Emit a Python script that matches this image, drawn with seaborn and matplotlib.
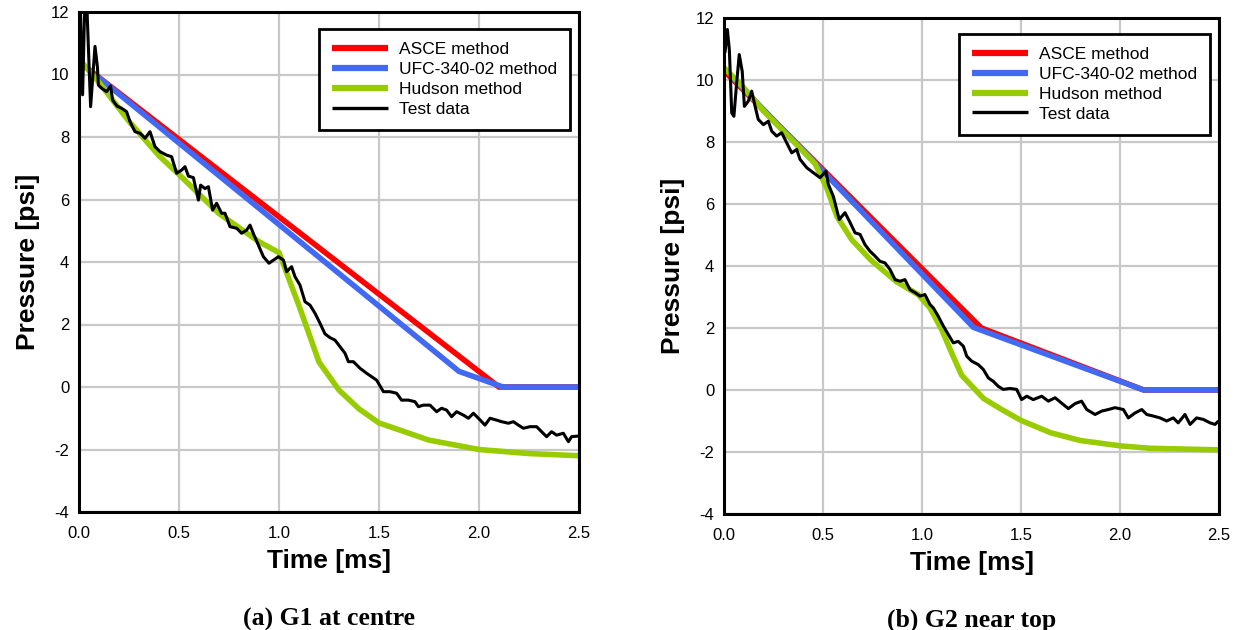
import numpy as np
import pandas as pd
import matplotlib
matplotlib.use("Agg")
import matplotlib.pyplot as plt
import seaborn as sns

# ---------------- data: panel (a) G1 at centre ----------------
a_asce_t = [0.0, 2.10, 2.50]
a_asce_p = [10.4, 0.0, 0.0]
a_ufc_t = [0.08, 1.90, 2.12, 2.50]
a_ufc_p = [10.0, 0.5, 0.0, 0.0]
a_hud_t = [0.0, 0.1, 0.25, 0.4, 0.5, 0.7, 0.9, 1.0, 1.1, 1.2, 1.3, 1.4, 1.5, 1.75, 2.0, 2.25, 2.5]
a_hud_p = [10.5, 9.75, 8.5, 7.4, 6.8, 5.55, 4.65, 4.3, 2.6, 0.8, -0.1, -0.7, -1.15, -1.7, -2.0, -2.13, -2.2]
a_test_t = [0.0, 0.004, 0.018, 0.03, 0.037, 0.058, 0.08, 0.092, 0.097, 0.113, 0.138, 0.158, 0.168,
            0.19, 0.213, 0.238, 0.255, 0.28, 0.305, 0.33, 0.355, 0.38, 0.405, 0.438, 0.463, 0.488,
            0.513, 0.53, 0.547, 0.572, 0.597, 0.608, 0.63, 0.647, 0.668, 0.688, 0.713, 0.73, 0.755,
            0.788, 0.813, 0.838, 0.855, 0.875, 0.897, 0.922, 0.95, 0.972, 0.997, 1.022, 1.038, 1.063,
            1.08, 1.105, 1.13, 1.155, 1.18, 1.205, 1.23, 1.255, 1.28, 1.305, 1.33, 1.347, 1.372,
            1.405, 1.438, 1.463, 1.488, 1.522, 1.555, 1.588, 1.613, 1.647, 1.68, 1.697, 1.722, 1.755,
            1.788, 1.813, 1.838, 1.863, 1.888, 1.922, 1.947, 1.972, 1.997, 2.03, 2.055, 2.088, 2.113,
            2.147, 2.172, 2.197, 2.222, 2.255, 2.288, 2.313, 2.338, 2.363, 2.388, 2.422, 2.447, 2.463,
            2.497]
a_test_p = [10.3, 12.8, 9.35, 12.6, 12.6, 8.97, 10.9, 10.25, 9.66, 9.56, 9.45, 9.63, 9.18,
            8.99, 8.92, 8.81, 8.49, 8.17, 8.12, 7.96, 8.17, 7.69, 7.53, 7.42, 7.37, 6.84,
            6.94, 7.05, 6.75, 6.7, 5.98, 6.46, 6.35, 6.41, 5.66, 5.88, 5.56, 5.56, 5.13,
            5.08, 4.92, 5.02, 5.18, 4.86, 4.54, 4.17, 3.96, 4.06, 4.17, 4.06, 3.69, 3.85,
            3.53, 3.26, 2.73, 2.62, 2.36, 2.04, 1.7, 1.58, 1.5, 1.29, 1.08, 0.81, 0.81,
            0.6, 0.44, 0.33, 0.22, -0.15, -0.15, -0.2, -0.42, -0.42, -0.47, -0.63, -0.58, -0.58,
            -0.79, -0.68, -0.74, -0.95, -0.79, -0.9, -1.0, -0.84, -1.0, -1.22, -1.0, -1.06, -1.11,
            -1.16, -1.11, -1.22, -1.32, -1.27, -1.27, -1.43, -1.59, -1.43, -1.54, -1.48, -1.75, -1.59,
            -1.57]

# ---------------- data: panel (b) G2 near top ----------------
b_asce_t = [0.0, 1.30, 2.12, 2.50]
b_asce_p = [10.3, 2.0, 0.0, 0.0]
b_ufc_t = [0.04, 1.26, 2.12, 2.50]
b_ufc_p = [10.1, 2.02, 0.0, 0.0]
b_hud_t = [0.0, 0.1, 0.2, 0.3, 0.4, 0.46, 0.52, 0.57, 0.645, 0.74, 0.87, 0.98, 1.04, 1.1, 1.15,
           1.2, 1.31, 1.4, 1.5, 1.65, 1.8, 2.0, 2.15, 2.5]
b_hud_p = [10.4, 9.75, 9.0, 8.35, 7.7, 7.3, 6.5, 5.6, 4.85, 4.2, 3.5, 3.08, 2.65, 1.94, 1.19,
           0.48, -0.27, -0.62, -0.98, -1.38, -1.63, -1.8, -1.88, -1.93]
b_test_t = [0.005, 0.017, 0.027, 0.039, 0.05, 0.064, 0.077, 0.092, 0.103, 0.123, 0.14, 0.157, 0.173,
            0.199, 0.224, 0.241, 0.266, 0.291, 0.317, 0.342, 0.367, 0.384, 0.418, 0.451, 0.485, 0.515,
            0.527, 0.552, 0.582, 0.611, 0.633, 0.662, 0.687, 0.712, 0.737, 0.763, 0.788, 0.813, 0.838,
            0.864, 0.889, 0.914, 0.939, 0.965, 0.99, 1.015, 1.04, 1.057, 1.082, 1.108, 1.133, 1.158,
            1.183, 1.209, 1.226, 1.251, 1.284, 1.31, 1.335, 1.36, 1.385, 1.41, 1.444, 1.478, 1.503,
            1.529, 1.562, 1.605, 1.638, 1.672, 1.714, 1.739, 1.773, 1.806, 1.832, 1.874, 1.908, 1.941,
            1.975, 2.017, 2.042, 2.076, 2.11, 2.135, 2.168, 2.202, 2.236, 2.269, 2.294, 2.328, 2.354,
            2.387, 2.421, 2.455, 2.48, 2.497]
b_test_p = [10.88, 11.63, 10.98, 8.94, 8.83, 9.91, 10.82, 10.28, 9.15, 9.32, 9.64, 9.15, 8.73,
            8.56, 8.67, 8.35, 8.19, 8.3, 7.97, 7.65, 7.76, 7.44, 7.17, 7.01, 6.85, 7.06,
            6.63, 6.25, 5.5, 5.72, 5.45, 5.07, 5.02, 4.69, 4.48, 4.32, 4.15, 4.1, 3.89,
            3.56, 3.51, 3.56, 3.24, 3.14, 3.03, 3.08, 2.76, 2.65, 2.38, 2.06, 1.79, 1.52,
            1.57, 1.41, 1.09, 0.93, 0.82, 0.66, 0.39, 0.28, 0.12, 0.02, 0.05, 0.02, -0.31,
            -0.2, -0.31, -0.2, -0.36, -0.25, -0.47, -0.6, -0.44, -0.36, -0.63, -0.79, -0.68, -0.63,
            -0.57, -0.63, -0.9, -0.74, -0.63, -0.79, -0.84, -0.9, -1.0, -0.9, -1.06, -0.79, -1.11,
            -0.9, -0.95, -1.06, -1.11, -1.0]

x_ticks = [0.0, 0.5, 1.0, 1.5, 2.0, 2.5]
y_ticks = [-4, -2, 0, 2, 4, 6, 8, 10, 12]
series_names = ["ASCE method", "UFC-340-02 method", "Hudson method", "Test data"]
captions = ["(a) G1 at centre", "(b) G2 near top"]

colors = {"ASCE method": "#ff0000", "UFC-340-02 method": "#4169f2",
          "Hudson method": "#99cc00", "Test data": "#000000"}
widths = {"ASCE method": 4.0, "UFC-340-02 method": 4.0, "Hudson method": 4.0, "Test data": 2.2}

sns.set_style("white")
plt.rcParams['font.family'] = ['Liberation Sans', 'DejaVu Sans']
plt.rcParams.update({"text.color": "black", "axes.labelcolor": "black",
                     "xtick.color": "black", "ytick.color": "black"})

fig = plt.figure(figsize=(12.4, 6.3), dpi=100)
ax_a = fig.add_axes([79/1240, 1-512/630, 500/1240, 500/630])
ax_b = fig.add_axes([724/1240, 1-514/630, 495/1240, 496/630])

panels = [
    (ax_a, [(a_asce_t, a_asce_p), (a_ufc_t, a_ufc_p), (a_hud_t, a_hud_p), (a_test_t, a_test_p)],
     (0.982, 0.966)),
    (ax_b, [(b_asce_t, b_asce_p), (b_ufc_t, b_ufc_p), (b_hud_t, b_hud_p), (b_test_t, b_test_p)],
     (0.982, 0.968)),
]

for i, (ax, data, leg_pos) in enumerate(panels):
    for name, (t, p) in zip(series_names, data):
        df = pd.DataFrame({"Time": t, "Pressure": p})
        sns.lineplot(data=df, x="Time", y="Pressure", ax=ax, color=colors[name],
                     linewidth=widths[name], label=name, estimator=None, sort=False,
                     solid_capstyle="butt", solid_joinstyle="miter" if name != "Test data" else "round")
    ax.set_xlim(0, 2.5)
    ax.set_ylim(-4, 12)
    ax.set_xticks(x_ticks)
    ax.set_xticklabels([f"{v:.1f}" for v in x_ticks], fontsize=12)
    ax.set_yticks(y_ticks)
    ax.set_yticklabels([str(v) for v in y_ticks], fontsize=12)
    ax.tick_params(axis="x", length=0, pad=10)
    ax.tick_params(axis="y", length=0, pad=7)
    ax.grid(True, color="#c8c8c8", linewidth=1.6)
    ax.set_axisbelow(True)
    for sp in ax.spines.values():
        sp.set_color("black")
        sp.set_linewidth(2.2)
        sp.set_zorder(5)
    ax.set_xlabel("Time [ms]", fontsize=19, fontweight="bold", labelpad=6)
    ax.set_ylabel("Pressure [psi]", fontsize=19, fontweight="bold", labelpad=8)
    leg = ax.legend(loc="upper right", bbox_to_anchor=leg_pos, fontsize=12.5, frameon=True,
                    fancybox=False, edgecolor="black", framealpha=1, handlelength=3.2,
                    labelspacing=0.27, borderpad=0.75, handletextpad=0.65, borderaxespad=0)
    leg.get_frame().set_linewidth(2.0)
    for ln in leg.get_lines():
        ln.set_linewidth(4.5 if ln.get_color() != "#000000" else 2.4)
    ax.text(0.5, -0.214, captions[i], transform=ax.transAxes, ha="center", va="center",
            fontsize=18.5, fontweight="bold", family="Liberation Serif")

fig.savefig("out.png", dpi=100)
